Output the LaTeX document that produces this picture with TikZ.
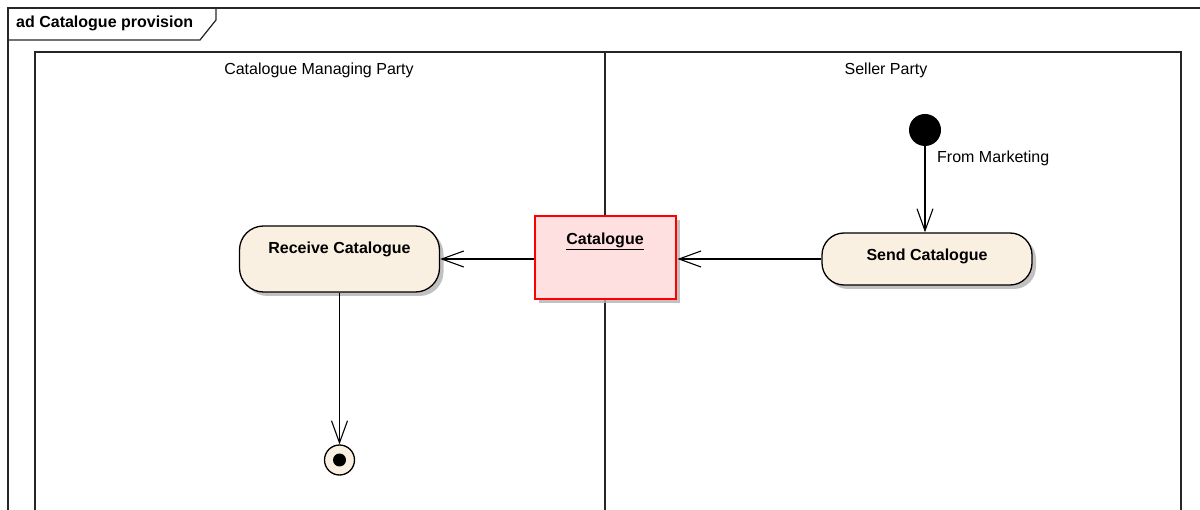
\documentclass[tikz,border=0pt]{standalone}
\usepackage{fontspec}
\setmainfont{Liberation Sans}
\usetikzlibrary{arrows.meta,shadows}
\definecolor{actfill}{HTML}{FAF0E2}
\definecolor{objfill}{HTML}{FFE0E0}
\begin{document}
\begin{tikzpicture}[x=1pt,y=-1pt,
  fr/.style={draw=black!85,line width=1.2pt},
  act/.style={draw=black,line width=1.3pt,fill=actfill,rounded corners=24pt,
    drop shadow={shadow xshift=4pt,shadow yshift=-4pt,fill=black!30,opacity=0.8}},
  obj/.style={draw=red,line width=2.8pt,fill=objfill,
    drop shadow={shadow xshift=4pt,shadow yshift=-4pt,fill=black!30,opacity=0.8}},
  flow/.style={draw=black,line width=1.1pt,-{Straight Barb[length=22pt,width=16pt,line width=1.1pt]}},
  lbl/.style={font=\fontsize{16}{19}\selectfont,inner sep=0pt},
  blbl/.style={font=\fontsize{16}{19}\selectfont\bfseries,inner sep=0pt}]
\useasboundingbox (0,0) rectangle (1200,510);
% outer frame
\draw[fr] (8,515) -- (8,8) -- (1205,8);
\draw[fr] (8,40) -- (200,40) -- (216,20) -- (216,8);
\node[blbl,anchor=west] (title) at (16,23) {ad Catalogue provision};
% swimlanes
\draw[fr] (35,515) -- (35,52) -- (1181,52) -- (1181,515);
\draw[fr] (605,52) -- (605,515);
\node[lbl] (laneA) at (319,70) {Catalogue Managing Party};
\node[lbl] (laneB) at (886,70) {Seller Party};
% nodes
\node[act,minimum width=200pt,minimum height=66pt] (recv) at (339.5,259) {};
\node[blbl] (recvt) at (339.5,249) {Receive Catalogue};
\node[act,minimum width=210pt,minimum height=52pt,rounded corners=22pt] (send) at (927,259) {};
\node[blbl] (sendt) at (927,256) {Send Catalogue};
\node[obj,minimum width=141pt,minimum height=83pt] (cat) at (605.5,257.5) {};
\node[blbl] (catt) at (605,241) {\underline{Catalogue}};
\node[circle,fill=black,minimum size=32pt,inner sep=0pt] (init) at (925,130) {};
\node[circle,draw=black,line width=1.3pt,fill=actfill,minimum size=30pt,inner sep=0pt] (fin) at (339.5,460) {};
\node[circle,fill=black,minimum size=13pt,inner sep=0pt] (finc) at (339.5,460) {};
\node[lbl,anchor=west] (fm) at (937,158) {From Marketing};
% flows
\draw[flow] (init) -- (init |- send.north);
\draw[flow] (send.west) -- (send.west -| cat.east);
\draw[flow] (cat.west |- send.west) -- (send.west -| recv.east);
\draw[flow] (recv) -- (fin);
\end{tikzpicture}
\end{document}
